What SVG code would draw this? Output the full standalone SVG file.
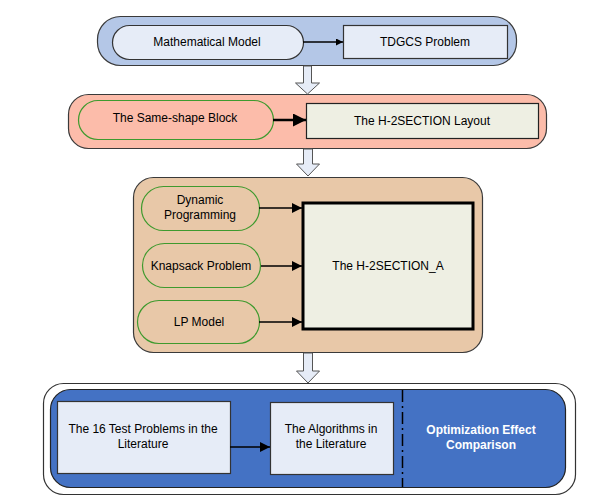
<svg xmlns="http://www.w3.org/2000/svg" width="616" height="503" viewBox="0 0 616 503">
<style>
text{font-family:"Liberation Sans",Arial,sans-serif;font-size:12px;fill:#000;text-anchor:middle}
.wt{fill:#fff;font-weight:bold}
.cont{stroke:#3a3a3a;stroke-width:1.2}
.lb{fill:#E6ECF7;stroke:#333;stroke-width:1.2}
.gp{stroke:#3E9A2E;stroke-width:1.2}
.bg{fill:#EEEFE3;stroke:#222;stroke-width:1.2}
.down{fill:#E6ECF7;stroke:#555;stroke-width:1}
.ln{stroke:#000;fill:none}
</style>
<defs>
<marker id="ah" viewBox="0 0 10 10" refX="10" refY="5" markerWidth="10" markerHeight="7" markerUnits="userSpaceOnUse" orient="auto"><path d="M0,0L10,5L0,10z" fill="#000"/></marker>
<marker id="ahb" viewBox="0 0 10 10" refX="10" refY="5" markerWidth="16" markerHeight="13" markerUnits="userSpaceOnUse" orient="auto"><path d="M0,0L10,5L0,10z" fill="#000"/></marker>
<marker id="ahm" viewBox="0 0 10 10" refX="10" refY="5" markerWidth="15" markerHeight="10" markerUnits="userSpaceOnUse" orient="auto"><path d="M0,0L10,5L0,10z" fill="#000"/></marker>
</defs>

<g id="stage1">
<rect class="cont" x="97.5" y="16.5" width="419" height="49" rx="23" fill="#B4C7E7"/>
</g>
<g id="stage2">
<rect class="cont" x="68.5" y="94.5" width="478" height="54" rx="20" fill="#FCBCAA"/>
</g>
<g id="stage3">
<rect class="cont" x="133.5" y="177.5" width="349" height="175" rx="20" fill="#E8C8A8"/>
</g>
<g id="stage4">
<rect x="43.5" y="383.5" width="532" height="111" rx="20" fill="#fff" stroke="#333" stroke-width="1.2"/>
<rect x="50.5" y="389.5" width="515" height="98" rx="20" fill="#4472C4" stroke="#222" stroke-width="1.2"/>
</g>

<g id="mathematical-model">
<rect class="lb" x="112.5" y="25.5" width="191" height="34" rx="17"/>
<text x="207" y="46">Mathematical Model</text>
</g>
<g id="tdgcs-problem">
<rect class="lb" x="343.5" y="25.5" width="164" height="33"/>
<text x="425" y="46">TDGCS Problem</text>
</g>

<g id="same-shape-block">
<rect class="gp" x="78.5" y="100.5" width="195" height="39" rx="19.5" fill="#FCBCAA"/>
<text x="175" y="122">The Same-shape Block</text>
</g>
<g id="h2section-layout">
<rect class="bg" x="306.5" y="103.5" width="232" height="35"/>
<text x="422" y="125">The H-2SECTION Layout</text>
</g>

<g id="dynamic-programming">
<rect class="gp" x="141.5" y="186.5" width="118" height="44" rx="22" fill="#E8C8A8"/>
<text x="200" y="204">Dynamic</text>
<text x="200" y="219">Programming</text>
</g>
<g id="knapsack-problem">
<rect class="gp" x="142.5" y="243.5" width="118" height="44" rx="22" fill="#E8C8A8"/>
<text x="201" y="270">Knapsack Problem</text>
</g>
<g id="lp-model">
<rect class="gp" x="137.5" y="300.5" width="122" height="43" rx="21.5" fill="#E8C8A8"/>
<text x="199" y="326">LP Model</text>
</g>
<g id="h2section-a">
<rect x="303" y="203" width="170" height="126" fill="#EEEFE3" stroke="#000" stroke-width="3"/>
<text x="388" y="270">The H-2SECTION_A</text>
</g>

<g id="test-problems">
<rect class="lb" x="57.5" y="401.5" width="173" height="72"/>
<text x="143" y="433">The 16 Test Problems in the</text>
<text x="143" y="448">Literature</text>
</g>
<g id="algorithms">
<rect class="lb" x="270.5" y="402.5" width="123" height="72"/>
<text x="331" y="433">The Algorithms in</text>
<text x="331" y="448">the Literature</text>
</g>
<g id="optimization-effect">
<text class="wt" x="481" y="434">Optimization Effect</text>
<text class="wt" x="481" y="449">Comparison</text>
</g>

<g id="connectors">
<line class="ln" x1="303" y1="42" x2="343" y2="42" stroke-width="1.5" marker-end="url(#ah)"/>
<line class="ln" x1="273" y1="120" x2="306" y2="120" stroke-width="2.5" marker-end="url(#ahb)"/>
<line class="ln" x1="259" y1="208" x2="302" y2="208" stroke-width="1.5" marker-end="url(#ahm)"/>
<line class="ln" x1="261" y1="266" x2="302" y2="266" stroke-width="1.5" marker-end="url(#ahm)"/>
<line class="ln" x1="259" y1="322" x2="302" y2="322" stroke-width="1.5" marker-end="url(#ahm)"/>
<line class="ln" x1="230" y1="447" x2="270" y2="447" stroke-width="1.5" marker-end="url(#ahm)"/>
<line class="ln" x1="402.5" y1="390" x2="402.5" y2="487" stroke-width="1.5" stroke-dasharray="12,4,2,4"/>
<path class="down" d="M303.5,66V83H295.5L307.5,94L319.5,83H311.5V66Z"/>
<path class="down" d="M303.5,149V164H296.5L308,176L319.5,164H312.5V149Z"/>
<path class="down" d="M303.5,353V371H296.5L308,383L319.5,371H312.5V353Z"/>
</g>
</svg>
